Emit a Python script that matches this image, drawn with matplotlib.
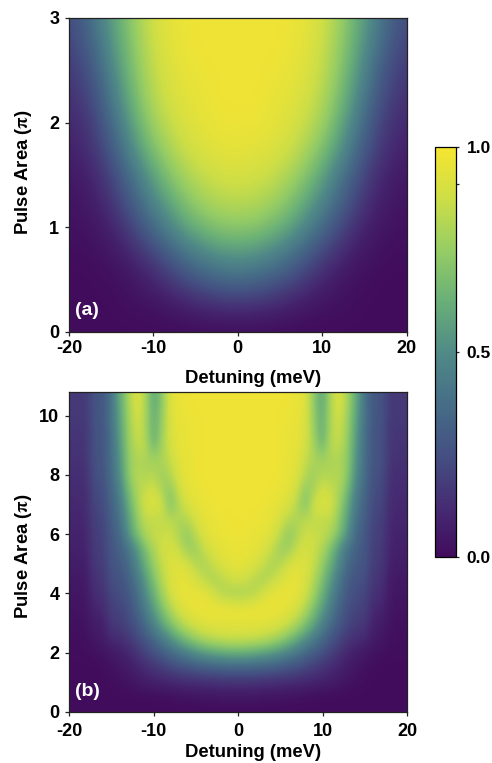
import numpy as np
import matplotlib
matplotlib.use('Agg')
import matplotlib.pyplot as plt
from matplotlib.colors import LinearSegmentedColormap

plt.rcParams['font.family'] = ['Liberation Sans', 'DejaVu Sans']
plt.rcParams['font.weight'] = 'bold'
plt.rcParams['axes.labelweight'] = 'bold'
plt.rcParams['mathtext.fontset'] = 'stix'

W, H = 492, 763

# half of each map, detuning >= 0, the maps are mirrored around 0
detuning_a = [0, 2, 4, 6, 8, 10, 12, 14, 16, 18, 20]
area_a = [0, 0.25, 0.5, 0.75, 1.0, 1.25, 1.5, 1.75, 2.0, 2.25, 2.5, 2.75, 3.0]
map_a = [
    [.00, .00, .00, .00, .00, .00, .00, .00, .00, .00, .00],
    [.14, .13, .11, .08, .05, .03, .02, .01, .00, .00, .00],
    [.36, .34, .30, .24, .17, .10, .05, .02, .01, .00, .00],
    [.55, .53, .48, .41, .31, .21, .13, .06, .03, .01, .01],
    [.72, .71, .66, .59, .48, .36, .24, .13, .06, .03, .02],
    [.83, .82, .78, .71, .60, .48, .34, .21, .11, .05, .03],
    [.90, .89, .86, .80, .71, .58, .43, .28, .15, .08, .05],
    [.95, .94, .92, .88, .80, .69, .54, .37, .22, .12, .08],
    [.97, .97, .95, .92, .86, .77, .62, .44, .27, .15, .11],
    [.98, .98, .96, .94, .90, .82, .68, .51, .33, .20, .14],
    [.98, .98, .97, .96, .92, .85, .72, .56, .38, .24, .17],
    [.98, .98, .98, .97, .94, .87, .75, .60, .44, .29, .21],
    [.98, .98, .98, .97, .95, .89, .77, .63, .48, .33, .24],
]

detuning_b = list(range(21))
area_b = [0, 0.5, 1.0, 1.5, 2.0, 2.5, 3.0, 3.5, 4.0, 4.5, 5.0, 5.5, 6.0, 6.5,
          7.0, 7.5, 8.0, 8.5, 9.0, 9.5, 10.0, 10.5, 11.0]
map_b = [
    [.00, .00, .00, .00, .00, .00, .00, .00, .00, .00, .00, .00, .00, .00, .00, .00, .00, .00, .00, .00, .00],
    [.04, .04, .04, .03, .03, .03, .02, .02, .01, .01, .00, .00, .00, .00, .00, .00, .00, .00, .00, .00, .00],
    [.14, .14, .14, .13, .13, .12, .12, .11, .10, .09, .08, .07, .05, .03, .02, .01, .00, .00, .00, .00, .00],
    [.33, .33, .32, .31, .30, .28, .26, .24, .21, .18, .15, .12, .09, .06, .04, .02, .01, .00, .00, .00, .00],
    [.62, .62, .60, .58, .55, .51, .46, .41, .35, .30, .25, .20, .15, .10, .07, .05, .03, .02, .01, .01, .01],
    [.88, .88, .87, .85, .82, .77, .70, .62, .53, .44, .36, .28, .22, .17, .13, .12, .06, .05, .02, .01, .01],
    [.94, .94, .94, .94, .93, .91, .87, .80, .70, .59, .47, .37, .28, .22, .18, .17, .08, .07, .03, .02, .02],
    [.96, .97, .97, .97, .97, .96, .94, .90, .81, .69, .56, .44, .33, .25, .21, .20, .11, .10, .04, .03, .03],
    [.78, .79, .82, .90, .95, .96, .96, .95, .89, .77, .63, .49, .37, .28, .24, .22, .14, .13, .05, .04, .04],
    [.90, .88, .82, .79, .84, .90, .94, .95, .91, .82, .69, .55, .42, .31, .26, .25, .16, .15, .06, .05, .05],
    [.95, .94, .92, .86, .79, .82, .90, .93, .92, .86, .75, .62, .48, .36, .29, .27, .18, .17, .08, .07, .07],
    [.96, .96, .94, .92, .86, .76, .76, .87, .90, .88, .80, .68, .52, .40, .32, .28, .19, .18, .09, .08, .08],
    [.97, .97, .96, .95, .92, .84, .73, .80, .88, .87, .86, .80, .68, .52, .35, .29, .20, .19, .10, .09, .09],
    [.98, .97, .97, .96, .95, .90, .82, .80, .84, .84, .84, .85, .72, .56, .39, .31, .21, .20, .11, .10, .10],
    [.98, .98, .98, .97, .96, .94, .91, .82, .68, .90, .92, .90, .77, .60, .42, .33, .23, .22, .12, .11, .11],
    [.98, .98, .98, .98, .97, .96, .94, .88, .72, .80, .90, .86, .80, .66, .46, .35, .24, .23, .13, .12, .12],
    [.98, .98, .98, .98, .98, .97, .95, .92, .82, .76, .82, .80, .83, .72, .50, .37, .26, .25, .14, .13, .13],
    [.98, .98, .98, .98, .98, .97, .95, .94, .85, .80, .78, .80, .80, .73, .52, .38, .27, .26, .15, .14, .14],
    [.98, .98, .98, .98, .98, .97, .96, .95, .90, .78, .64, .84, .85, .74, .54, .38, .27, .26, .16, .15, .15],
    [.98, .98, .98, .98, .98, .97, .96, .95, .91, .76, .60, .82, .88, .75, .56, .39, .27, .26, .16, .16, .16],
    [.98, .98, .98, .98, .98, .97, .97, .96, .92, .74, .60, .82, .90, .76, .58, .40, .28, .27, .17, .17, .17],
    [.98, .98, .98, .98, .98, .98, .97, .96, .93, .72, .58, .82, .93, .78, .60, .40, .28, .27, .17, .17, .17],
    [.98, .98, .98, .98, .98, .98, .97, .96, .93, .72, .58, .82, .93, .78, .60, .40, .28, .27, .17, .17, .17],
]

xticks = [-20, -10, 0, 10, 20]
xticklabels = ['-20', '-10', '0', '10', '20']
yticks_a = [0, 1, 2, 3]
yticks_b = [0, 2, 4, 6, 8, 10]
cbar_ticks = [0.0, 0.5, 0.91, 1.0]
cbar_labels = ['0.0', '0.5', '', '1.0']

# colours, washed out compared to plain viridis
bar_colors = ['#410c5c', '#462d73', '#445082', '#466e87', '#508a87',
              '#69af78', '#96cd64', '#cdde46', '#f6e532']
cmap = LinearSegmentedColormap.from_list('bar', bar_colors)


def px_axes(fig, left, top, right, bottom):
    return fig.add_axes([left / W, 1 - bottom / H, (right - left) / W, (bottom - top) / H])


def draw_map(ax, detuning, area, values, yticks, ymax, tag, tick_pad, xlabel_y, ylabel_y, tag_y):
    values = np.array(values)
    z = np.hstack([values[:, :0:-1], values])
    dx = detuning[1] - detuning[0]
    dy = area[1] - area[0]
    im = ax.imshow(z, origin='lower', aspect='auto', cmap=cmap, vmin=0, vmax=1,
                   interpolation='bicubic', interpolation_stage='data',
                   extent=(-detuning[-1] - dx / 2, detuning[-1] + dx / 2, area[0] - dy / 2, area[-1] + dy / 2))
    ax.set_xlim(-20, 20)
    ax.set_ylim(0, ymax)
    ax.set_xticks(xticks)
    ax.set_xticklabels(xticklabels)
    ax.set_yticks(yticks)
    ax.tick_params(labelsize=13, length=3, width=0.9, color='#222222')
    ax.tick_params(axis='x', pad=tick_pad)
    ax.tick_params(axis='y', pad=4)
    ax.set_xlabel('Detuning (meV)', fontsize=13.3, va='center')
    ax.set_ylabel(r'Pulse Area ($\mathrm{\pi}$)', fontsize=13.3, va='center')
    ax.xaxis.set_label_coords(0.544, xlabel_y)
    ax.yaxis.set_label_coords(-0.135, ylabel_y)
    ax.text(0.019, tag_y, tag, transform=ax.transAxes, color='white', fontsize=14, va='center')
    for s in ax.spines.values():
        s.set_linewidth(0.9)
        s.set_color('#222222')
    return im


fig = plt.figure(figsize=(W / 100, H / 100), dpi=100)

ax_a = px_axes(fig, 69, 18, 406.5, 332)
im = draw_map(ax_a, detuning_a, area_a, map_a, yticks_a, 3, '(a)', 3, -0.1465, 0.508, 0.067)

ax_b = px_axes(fig, 69, 392, 407, 712)
draw_map(ax_b, detuning_b, area_b, map_b, yticks_b, 10.8, '(b)', 5, -0.128, 0.4875, 0.0625)

cax = px_axes(fig, 435, 147, 456, 557)
cbar = fig.colorbar(im, cax=cax, ticks=cbar_ticks)
cbar.ax.set_yticklabels(cbar_labels)
cbar.ax.tick_params(labelsize=12.5, length=2.2, width=0.9, pad=5.5, color='#222222')
cbar.outline.set_linewidth(0.9)

fig.savefig('out.png', dpi=100)
